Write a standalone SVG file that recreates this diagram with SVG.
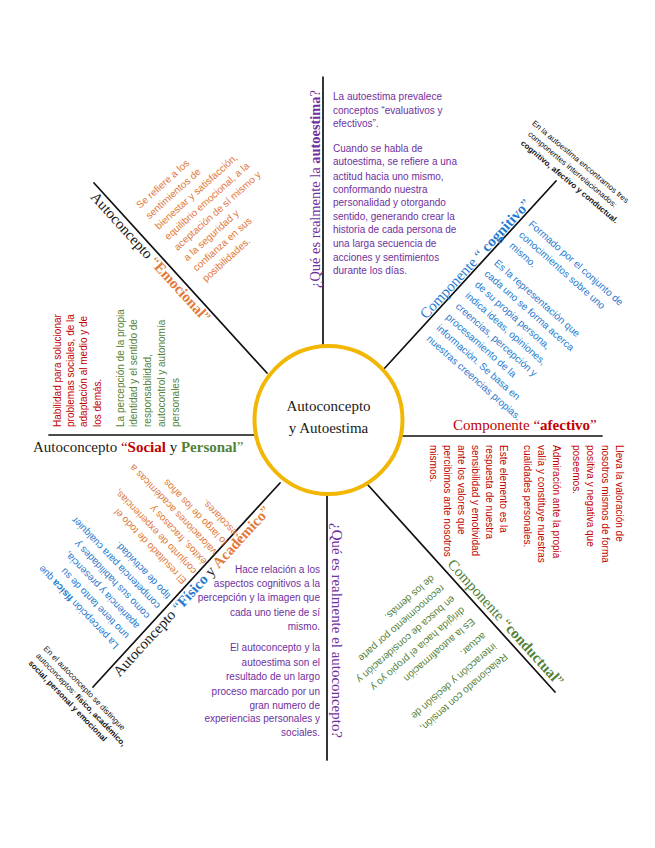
<svg xmlns="http://www.w3.org/2000/svg" width="655" height="848" viewBox="0 0 655 848">
<style>
.s{font-family:"Liberation Sans",Arial,sans-serif;font-size:10px}
.n{font-family:"Liberation Sans",Arial,sans-serif;font-size:8px;fill:#111}
.t{font-family:"Liberation Serif","Times New Roman",serif;font-size:15px}
.b{font-weight:bold}
.pu{fill:#7030A0}.rd{fill:#C00000}.or{fill:#E2793A}.bl{fill:#1F7AD0}.gr{fill:#538135}.bk{fill:#1a1a1a}
.ln{stroke:#111;stroke-width:1.7;fill:none;stroke-linecap:round}
</style>
<rect width="655" height="848" fill="#fff"/>
<g id="connectors">
<line class="ln" x1="323" y1="77" x2="323" y2="350"/>
<line class="ln" x1="383" y1="370" x2="556" y2="181"/>
<line class="ln" x1="398" y1="436" x2="602" y2="436"/>
<line class="ln" x1="368" y1="485" x2="555" y2="692"/>
<line class="ln" x1="327" y1="490" x2="327" y2="760"/>
<line class="ln" x1="280" y1="483" x2="93" y2="687"/>
<line class="ln" x1="49" y1="435" x2="258" y2="435"/>
<line class="ln" x1="94" y1="183" x2="267" y2="373"/>
</g>
<g id="center">
<circle cx="328.5" cy="420" r="74" fill="#fff" stroke="#F2B705" stroke-width="4"/>
<text class="t bk" x="328.5" y="411" text-anchor="middle" font-size="16">Autoconcepto</text>
<text class="t bk" x="328.5" y="433" text-anchor="middle" font-size="16">y Autoestima</text>
</g>
<g id="autoestima">
<text class="t pu" transform="translate(319.5,288) rotate(-90)" x="0" y="0" textLength="198" lengthAdjust="spacingAndGlyphs">¿Qué es realmente la <tspan class="b">autoestima</tspan>?</text>
<g class="s pu">
<text x="333" y="100">La autoestima prevalece</text>
<text x="333" y="114">conceptos “evaluativos y</text>
<text x="333" y="127">efectivos”.</text>
<text x="333" y="152">Cuando se habla de</text>
<text x="333" y="165">autoestima, se refiere a una</text>
<text x="333" y="179.5">actitud hacia uno mismo,</text>
<text x="333" y="192.5">conformando nuestra</text>
<text x="333" y="206">personalidad y otorgando</text>
<text x="333" y="219.5">sentido, generando crear la</text>
<text x="333" y="233">historia de cada persona de</text>
<text x="333" y="247">una larga secuencia de</text>
<text x="333" y="261">acciones y sentimientos</text>
<text x="333" y="273.5">durante los días.</text>
</g>
</g>
<g id="nota-autoestima" transform="translate(531.4,124) rotate(40)">
<text class="n" x="0" y="0">En la autoestima encontramos tres</text>
<text class="n" x="4" y="11">componentes interrelacionados:</text>
<text class="n b" x="4.4" y="22.4">cognitivo, afectivo y conductual.</text>
</g>
<g id="cognitivo">
<text class="t bl" transform="translate(531.5,204.8) rotate(-47.5)" text-anchor="end">Componente “ <tspan class="b">cognitivo</tspan>”</text>
<g class="s bl" transform="translate(528,225) rotate(41.6)">
<text x="0" y="0">Formado por el conjunto de</text>
<text x="0" y="14.5">conocimientos sobre uno</text>
<text x="0" y="29">mismo.</text>
<text x="0" y="52">Es la representación que</text>
<text x="0" y="66.5">cada uno se forma acerca</text>
<text x="0" y="81">de su propia persona,</text>
<text x="0" y="95.5">indica ideas, opiniones,</text>
<text x="0" y="110">creencias, percepción y</text>
<text x="0" y="124.5">procesamiento de la</text>
<text x="0" y="139">información. Se basa en</text>
<text x="0" y="153.5">nuestras creencias propias.</text>
</g>
</g>
<g id="afectivo">
<text class="t rd" x="453" y="430">Componente “<tspan class="b">afectivo</tspan>”</text>
<g class="s rd" transform="translate(615.5,445) rotate(90)">
<text x="0" y="0">Lleva la valoración de</text>
<text x="0" y="14">nosotros mismos de forma</text>
<text x="0" y="28.5">positiva y negativa que</text>
<text x="0" y="43">poseemos.</text>
<text x="0" y="63">Admiración ante la propia</text>
<text x="0" y="77.5">valía y constituye nuestras</text>
<text x="0" y="91.5">cualidades personales.</text>
<text x="0" y="115.5">Este elemento es la</text>
<text x="0" y="129.5">respuesta de nuestra</text>
<text x="0" y="143.5">sensibilidad y emotividad</text>
<text x="0" y="157.5">ante los valores que</text>
<text x="0" y="171.5">percibimos ante nosotros</text>
<text x="0" y="185.5">mismos.</text>
</g>
</g>
<g id="conductual">
<text class="t gr" transform="translate(446.8,564.8) rotate(47.9)">Componente “<tspan class="b">conductual</tspan>”</text>
<g class="s gr" transform="translate(504,653) rotate(138.9)">
<text x="0" y="0">Relacionado con tensión,</text>
<text x="1.5" y="15">interacción y decisión de</text>
<text x="2.5" y="30">actuar.</text>
<text x="1.5" y="48">Es la autoafirmación</text>
<text x="1.5" y="63">dirigida hacia el propio yo y</text>
<text x="1.5" y="78">en busca de consideración y</text>
<text x="2.5" y="93">reconocimiento por parte</text>
<text x="3.5" y="107">de los demás.</text>
</g>
</g>
<g id="autoconcepto">
<text class="t pu" transform="translate(331.5,523) rotate(90)" textLength="215" lengthAdjust="spacingAndGlyphs">¿Qué es realmente el autoconcepto?</text>
<g class="s pu" text-anchor="end">
<text x="320" y="573">Hace relación a los</text>
<text x="320" y="587">aspectos cognitivos a la</text>
<text x="320" y="601">percepción y la imagen que</text>
<text x="320" y="616">cada uno tiene de sí</text>
<text x="320" y="630">mismo.</text>
<text x="320" y="651">El autoconcepto y la</text>
<text x="320" y="666">autoestima son el</text>
<text x="320" y="680">resultado de un largo</text>
<text x="320" y="695">proceso marcado por un</text>
<text x="320" y="709">gran numero de</text>
<text x="320" y="722">experiencias personales y</text>
<text x="320" y="736">sociales.</text>
</g>
</g>
<g id="fisico-academico">
<text class="t bk" transform="translate(119.5,677.4) rotate(-47.5)">Autoconcepto <tspan class="bl">“</tspan><tspan class="bl b">Físico</tspan> y <tspan class="or b">Académico</tspan><tspan class="or">”</tspan></text>
<g class="s" transform="translate(119,645) rotate(-133.7)">
<text class="bl" x="0" y="0">La percepción <tspan class="b">física</tspan> que</text>
<text class="bl" x="0" y="14.4">uno tiene tanto de su</text>
<text class="bl" x="0" y="28.8">apariencia y presencia,</text>
<text class="bl" x="0" y="43.2">como sus habilidades y</text>
<text class="bl" x="0" y="57.6">competencia para cualquier</text>
<text class="bl" x="0" y="72">tipo de actividad.</text>
<text class="or" x="0" y="94">El resultado de todo el</text>
<text class="or" x="0" y="108">conjunto de experiencias,</text>
<text class="or" x="0" y="122">éxitos, fracasos y</text>
<text class="or" x="0" y="136">valoraciones académicas a</text>
<text class="or" x="0" y="150">lo largo de los años</text>
<text class="or" x="0" y="164">escolares.</text>
</g>
</g>
<g id="nota-autoconcepto" transform="translate(43,649) rotate(46)">
<text class="n" x="0" y="0">En el autoconcepto se distingue</text>
<text class="n" x="0" y="10.5">autoconceptos: <tspan class="b">físico, académico,</tspan></text>
<text class="n b" x="0" y="21">social, personal y emocional</text>
</g>
<g id="social-personal">
<text class="t bk" x="33" y="452">Autoconcepto <tspan class="rd">“</tspan><tspan class="rd b">Social</tspan> y <tspan class="gr b">Personal</tspan><tspan class="gr">”</tspan></text>
<g class="s rd" transform="translate(60.5,427) rotate(-90)">
<text x="0" y="0">Habilidad para solucionar</text>
<text x="0" y="13.3">problemas sociales, de la</text>
<text x="0" y="26.6">adaptación al medio y de</text>
<text x="0" y="40">los demás.</text>
</g>
<g class="s gr" transform="translate(123.5,427) rotate(-90)">
<text x="0" y="0">La percepción de la propia</text>
<text x="0" y="13.75">identidad y el sentido de</text>
<text x="0" y="27.5">responsabilidad,</text>
<text x="0" y="41.25">autocontrol y autonomía</text>
<text x="0" y="55">personales</text>
</g>
</g>
<g id="emocional">
<text class="t bk" transform="translate(89.8,197.6) rotate(47.7)">Autoconcepto <tspan class="or">“</tspan><tspan class="or b">Emocional</tspan><tspan class="or">”</tspan></text>
<g class="s or" transform="translate(140,209) rotate(-42)">
<text x="0" y="0">Se refiere a los</text>
<text x="0" y="14.1">sentimientos de</text>
<text x="0" y="28.2">bienestar y satisfacción,</text>
<text x="0" y="42.3">equilibrio emocional, a la</text>
<text x="0" y="56.4">aceptación de sí mismo y</text>
<text x="0" y="70.5">a la seguridad y</text>
<text x="0" y="84.6">confianza en sus</text>
<text x="0" y="98.7">posibilidades.</text>
</g>
</g>
</svg>
